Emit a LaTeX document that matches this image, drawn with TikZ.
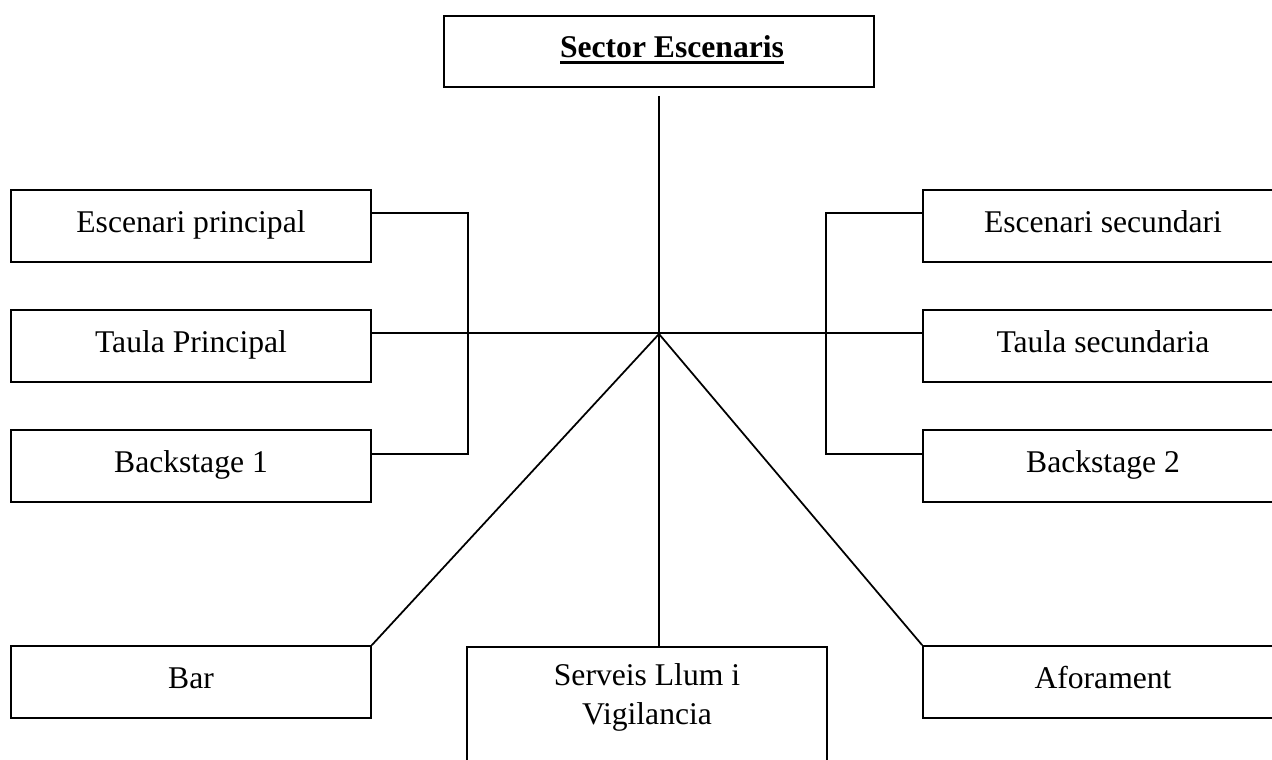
\documentclass[tikz,border=0pt]{standalone}
\usepackage{fontspec}
\setmainfont{Liberation Serif}
\usetikzlibrary{calc}
\newsavebox{\ulbox}
\newcommand{\ulbold}[1]{\sbox{\ulbox}{\bfseries #1}\rlap{\rule[-3.4pt]{\wd\ulbox}{1.4pt}}\usebox{\ulbox}}
\tikzset{
  box/.style={draw, line width=1pt, minimum width=7.2cm, minimum height=1.44cm, inner sep=0pt,
    text height=12.6pt, text depth=5.4pt, font=\fontsize{18}{22}\selectfont},
  link/.style={line width=1pt}
}
\begin{document}
\begin{tikzpicture}[x=0.02cm, y=-0.02cm]
    \useasboundingbox (0,0) rectangle (1272,760);
    \clip (0,0) rectangle (1272,760);

    % Head
    \node[box, minimum width=8.6cm, minimum height=1.42cm] (head) at (659,51.5) {\hspace{0.52cm}\ulbold{Sector Escenaris}};
    \coordinate (hub) at (659,334);

    % Left column
    \node[box] (ep) at (191,226) {Escenari principal};
    \node[box] (tp) at (191,346) {Taula Principal};
    \node[box] (bk1) at (191,466) {Backstage 1};

    % Right column
    \node[box] (es) at (1103,226) {Escenari secundari};
    \node[box] (ts) at (1103,346) {Taula secundaria};
    \node[box] (bk2) at (1103,466) {Backstage 2};

    % Bottom row
    \node[box] (bar) at (191,682) {Bar};
    \node[draw, line width=1pt, minimum width=7.2cm, inner sep=0pt, anchor=north, align=center,
      font=\fontsize{18}{22}\selectfont] (serv) at (647,646)
      {\rule{0pt}{0.78cm}Serveis Llum i\\Vigilancia\rule[-1cm]{0pt}{1cm}};
    \node[box] (afor) at (1103,682) {Aforament};

    % Links
    \draw[link, shorten <=0.16cm] (head) -- (hub);
    \draw[link] ($(tp.north east)+(0,24)$) -- ($(ts.north west)+(0,24)$);
    \draw[link] ($(ep.north east)+(0,24)$) -- ++(96,0) |- ($(bk1.north east)+(0,25)$);
    \draw[link] ($(es.north west)+(0,24)$) -- ++(-96,0) |- ($(bk2.north west)+(0,25)$);
    \draw[link] (hub) -- (bar.north east);
    \draw[link] (hub) -- (hub |- serv.north);
    \draw[link] (hub) -- (afor.north west);
\end{tikzpicture}
\end{document}
